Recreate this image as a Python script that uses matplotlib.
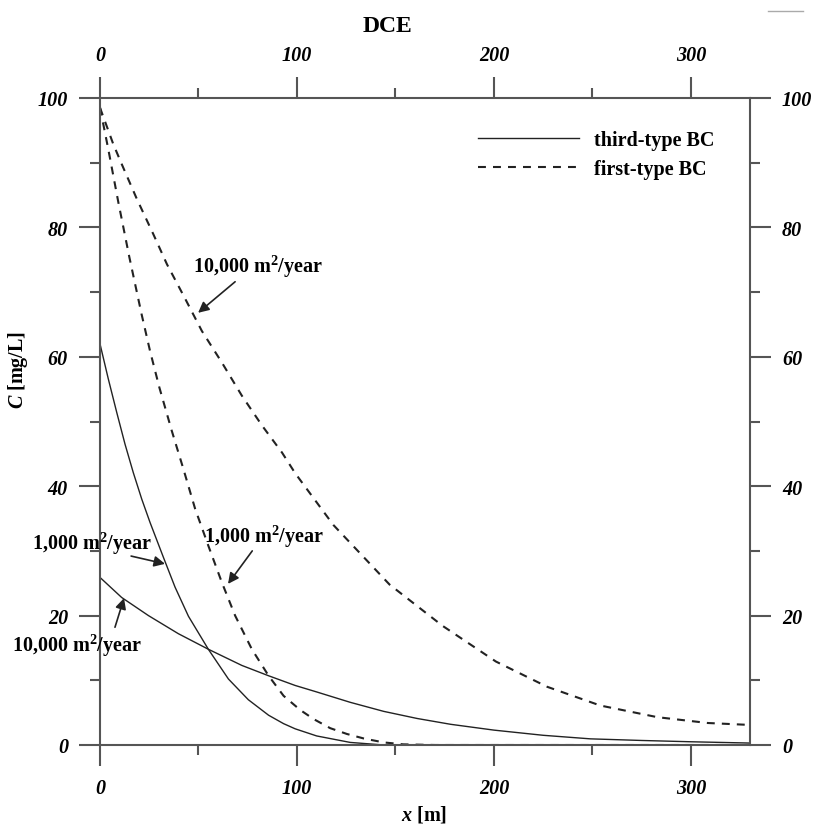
import matplotlib
matplotlib.use("Agg")
import matplotlib.pyplot as plt
from matplotlib.lines import Line2D
from matplotlib.ticker import MultipleLocator

plt.rcParams['font.family'] = ['Liberation Serif', 'DejaVu Serif']
plt.rcParams['mathtext.fontset'] = 'custom'
plt.rcParams['mathtext.rm'] = 'Liberation Serif:bold'
plt.rcParams['mathtext.bf'] = 'Liberation Serif:bold'
plt.rcParams['mathtext.bfit'] = 'Liberation Serif:italic:bold'
plt.rcParams['mathtext.it'] = 'Liberation Serif:italic:bold'

# third-type BC (solid)
x_third_1000 = [0, 4.2, 8.5, 12.7, 16.9, 21.2, 25.4, 32.2, 38.1, 44.9, 55, 65.2, 75.3,
                85.6, 93.2, 99.1, 110, 127, 144, 200, 330]
c_third_1000 = [62, 56.6, 51.4, 46.5, 42.1, 38, 34.4, 29.0, 24.4, 19.9, 14.8, 10.2, 7.0,
                4.6, 3.3, 2.5, 1.4, 0.4, 0, 0, 0]
x_third_10000 = [0, 11, 24.6, 39.8, 55, 72, 85.6, 99.1, 110, 127, 144, 161, 178, 200,
                 225, 249, 275, 300, 330]
c_third_10000 = [25.9, 22.8, 20, 17.2, 14.8, 12.3, 10.7, 9.2, 8.2, 6.6, 5.2, 4.1, 3.2, 2.3,
                 1.5, 0.95, 0.7, 0.5, 0.3]

# first-type BC (dashed)
x_first_1000 = [0, 4.2, 9.3, 14.9, 21.1, 25.4, 30.1, 36.4, 42.3, 48.3, 55, 61.9, 68.6,
                77.1, 85.6, 93.2, 101.7, 108.5, 116.9, 125.4, 134, 144, 154, 170, 330]
c_first_1000 = [98.5, 92.1, 83.9, 75.4, 66.6, 60.9, 55.3, 48.6, 42.7, 36.5, 30.8, 25.1, 20,
                14.8, 10.7, 7.6, 5.4, 4.0, 2.6, 1.7, 1.0, 0.4, 0.1, 0, 0]
x_first_10000 = [0, 6.7, 11, 18.7, 27, 34, 43.2, 51.7, 61.9, 72, 82.2, 92.4, 99.1, 118.5,
                 147, 174, 201, 227, 254, 283, 308.6, 330]
c_first_10000 = [98.5, 92.9, 89.8, 84.4, 79, 74.3, 69.0, 64, 59.1, 54, 49.4, 45.2, 42.0, 34.0,
                 24.8, 18.4, 12.9, 9.0, 6.1, 4.3, 3.4, 3.1]

x_ticks = [0, 100, 200, 300]
y_ticks = [0, 20, 40, 60, 80, 100]

fig = plt.figure(figsize=(8.16, 8.28), dpi=100)
ax = fig.add_axes([100/816, 1-746/828, 650/816, 647/828])

dash = (3.8, 3.4)
ax.plot(x_third_1000, c_third_1000, color='#222222', lw=1.0, label='third-type BC')
ax.plot(x_third_10000, c_third_10000, color='#222222', lw=1.0)
ax.plot(x_first_1000, c_first_1000, color='#222222', lw=1.5, dashes=dash, label='first-type BC')
ax.plot(x_first_10000, c_first_10000, color='#222222', lw=1.5, dashes=dash)

ax.set_xlim(0, 330)
ax.set_ylim(0, 100)
ax.set_xticks(x_ticks)
ax.set_yticks(y_ticks)
ax.xaxis.set_minor_locator(MultipleLocator(50))
ax.yaxis.set_minor_locator(MultipleLocator(10))

for s in ax.spines.values():
    s.set_color('#555555')
    s.set_linewidth(1.5)

ax.tick_params(which='both', direction='out', top=True, right=True,
               labeltop=True, labelright=True, color='#555555', width=1.5)
ax.tick_params(which='major', length=15)
ax.tick_params(which='minor', length=7.5)
ax.tick_params(axis='x', which='major', pad=9)
ax.tick_params(axis='y', which='major', pad=8)
for lab in ax.get_xticklabels() + ax.get_yticklabels():
    lab.set_fontsize(14.5)
    lab.set_fontweight('bold')
    lab.set_fontstyle('italic')

fig.text(387/816, 1-27/828, 'DCE', fontsize=17, fontweight='bold', ha='center', va='center')
fig.text(18/816, 1-370/828, r'$\mathbfit{C}$ [mg/L]', fontsize=14.5, fontweight='bold',
         rotation=90, ha='center', va='center')
fig.text(424/816, 1-815/828, r'$\mathbfit{x}$ [m]', fontsize=14.5, fontweight='bold',
         ha='center', va='center')

ax.legend(loc='upper left', bbox_to_anchor=(0.5815, 0.95), frameon=False,
          handlelength=5.0, handletextpad=0.75, labelspacing=0.45,
          borderpad=0, borderaxespad=0,
          prop={'family': 'Liberation Serif', 'weight': 'bold', 'size': 14.5})

arrow = dict(arrowstyle='-|>', color='#222222', lw=1.2, mutation_scale=16, shrinkA=0, shrinkB=0)
lab10k = r'10,000 m$^{\mathbf{2}}$/year'
lab1k = r'1,000 m$^{\mathbf{2}}$/year'
tkw = dict(fontsize=14.5, fontweight='bold', ha='center', va='center', clip_on=False)

ax.text(80.3, 74, lab10k, **tkw)
ax.annotate('', xy=(49.8, 66.8), xytext=(68.6, 71.6), arrowprops=arrow)
ax.text(83.4, 32.3, lab1k, **tkw)
ax.annotate('', xy=(65, 24.9), xytext=(77.3, 30), arrowprops=arrow)
ax.text(-4.1, 31.2, lab1k, **tkw)
ax.annotate('', xy=(33, 28), xytext=(15.8, 29.2), arrowprops=arrow)
ax.text(-11.7, 15.5, lab10k, **tkw)
ax.annotate('', xy=(12.2, 22.7), xytext=(7.6, 18.2), arrowprops=arrow)

fig.add_artist(Line2D([768/816, 803/816], [1-12/828, 1-12/828], color='#aaaaaa', lw=1))

fig.savefig('out.png', dpi=100)
